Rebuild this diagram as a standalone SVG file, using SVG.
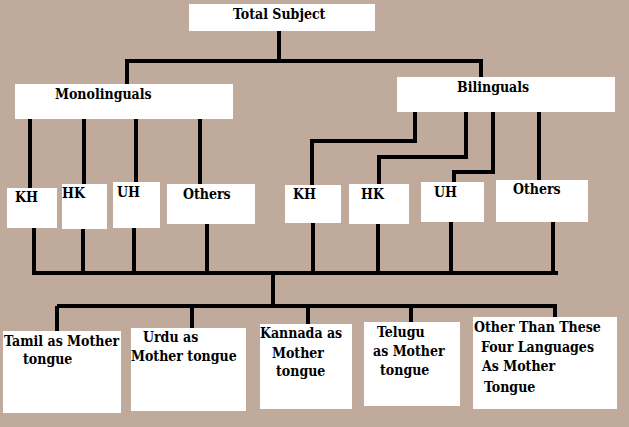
<svg xmlns="http://www.w3.org/2000/svg" width="629" height="427" viewBox="0 0 629 427">
<style>
.box{fill:#ffffff;stroke:none}
.t{font-family:"DejaVu Serif Condensed","DejaVu Serif",serif;font-weight:bold;font-size:14px;fill:#000}
.c{fill:none;stroke:#000;stroke-width:4;stroke-linecap:butt;stroke-linejoin:miter}
</style>
<rect width="629" height="427" fill="#bfaa9c"/>
<g id="connectors">
<path class="c" d="M279,31 V61 M127,84 V61 H481 V77"/>
<path class="c" d="M30,119 V188 M84,119 V184 M136,119 V182 M200,119 V184"/>
<path class="c" d="M415,112 V141 H312 V185 M466,112 V157 H379 V184 M493,112 V172 H454 V182 M539,112 V180"/>
<path class="c" d="M34,228 V273 M83,229 V273 M134,228 V273 M207,224 V273 M313,223 V273 M378,224 V273 M451,222 V273 M553,222 V273 M32,273 H558"/>
<path class="c" d="M273,273 V306 M57,306 H557 M57,306 V335 M192,306 V328 M308,306 V324 M411,306 V322 M555,306 V317"/>
</g>
<g id="total"><rect class="box" x="189" y="4" width="186" height="27"/><text class="t" x="233" y="19">Total Subject</text></g>
<g id="mono"><rect class="box" x="15" y="84" width="218" height="35"/><text class="t" x="55" y="99">Monolinguals</text></g>
<g id="bili"><rect class="box" x="397" y="77" width="218" height="35"/><text class="t" x="457" y="92">Bilinguals</text></g>
<g id="m-kh"><rect class="box" x="7" y="188" width="50" height="40"/><text class="t" x="15" y="202">KH</text></g>
<g id="m-hk"><rect class="box" x="62" y="184" width="45" height="45"/><text class="t" x="62" y="198">HK</text></g>
<g id="m-uh"><rect class="box" x="113" y="182" width="47" height="46"/><text class="t" x="117" y="197">UH</text></g>
<g id="m-others"><rect class="box" x="167" y="184" width="88" height="40"/><text class="t" x="183" y="199">Others</text></g>
<g id="b-kh"><rect class="box" x="285" y="185" width="56" height="38"/><text class="t" x="293" y="199">KH</text></g>
<g id="b-hk"><rect class="box" x="349" y="184" width="60" height="40"/><text class="t" x="361" y="199">HK</text></g>
<g id="b-uh"><rect class="box" x="421" y="182" width="63" height="40"/><text class="t" x="434" y="197">UH</text></g>
<g id="b-others"><rect class="box" x="496" y="180" width="92" height="42"/><text class="t" x="513" y="194">Others</text></g>
<g id="tamil"><rect class="box" x="3" y="331" width="118" height="82"/><text class="t" x="4" y="346">Tamil as Mother</text><text class="t" x="23" y="364">tongue</text></g>
<g id="urdu"><rect class="box" x="131" y="328" width="115" height="83"/><text class="t" x="143" y="342">Urdu as</text><text class="t" x="131" y="361">Mother tongue</text></g>
<g id="kannada"><rect class="box" x="260" y="324" width="92" height="85"/><text class="t" x="260" y="338">Kannada as</text><text class="t" x="272" y="358">Mother</text><text class="t" x="276" y="376">tongue</text></g>
<g id="telugu"><rect class="box" x="364" y="322" width="96" height="84"/><text class="t" x="377" y="337">Telugu</text><text class="t" x="373" y="356">as Mother</text><text class="t" x="380" y="375">tongue</text></g>
<g id="other"><rect class="box" x="473" y="317" width="144" height="92"/><text class="t" x="474" y="332">Other Than These</text><text class="t" x="481" y="352">Four Languages</text><text class="t" x="482" y="371">As Mother</text><text class="t" x="484" y="392">Tongue</text></g>
</svg>
